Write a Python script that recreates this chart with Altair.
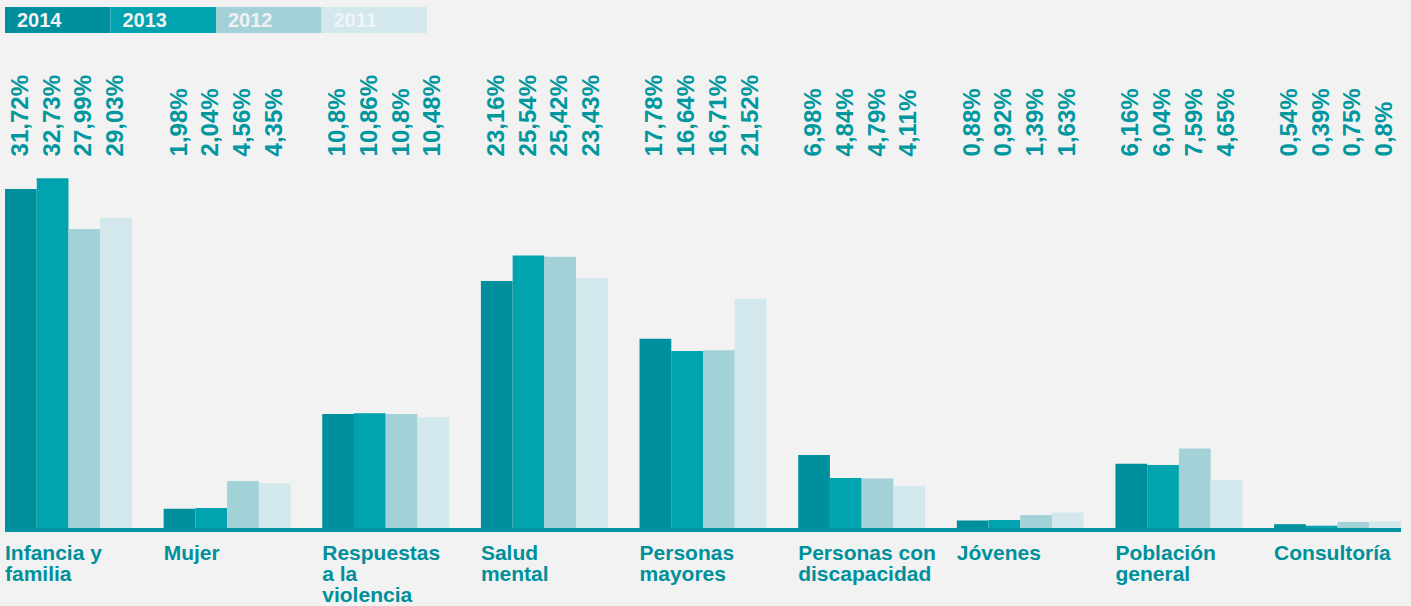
import altair as alt
import pandas as pd

categories = ["Infancia y familia", "Mujer", "Respuestas a la violencia", "Salud mental",
              "Personas mayores", "Personas con discapacidad", "Jóvenes",
              "Población general", "Consultoría"]
cat_labels = ["Infancia y\nfamilia", "Mujer", "Respuestas\na la\nviolencia", "Salud\nmental",
              "Personas\nmayores", "Personas con\ndiscapacidad", "Jóvenes",
              "Población\ngeneral", "Consultoría"]
years = ["2014", "2013", "2012", "2011"]
v2014 = [31.72, 1.98, 10.8, 23.16, 17.78, 6.98, 0.88, 6.16, 0.54]
v2013 = [32.73, 2.04, 10.86, 25.54, 16.64, 4.84, 0.92, 6.04, 0.39]
v2012 = [27.99, 4.56, 10.8, 25.42, 16.71, 4.79, 1.39, 7.59, 0.75]
v2011 = [29.03, 4.35, 10.48, 23.43, 21.52, 4.11, 1.63, 4.65, 0.8]
colors = ["#008f9c", "#00a3ae", "#a3d1d8", "#d3e8ed"]
legend_text_colors = ["#f2f2f2", "#f2f2f2", "#f0f0f0", "#eef5f7"]

rows = []
for y, vals in zip(years, [v2014, v2013, v2012, v2011]):
    for c, v in zip(categories, vals):
        rows.append({"cat": c, "year": y, "value": v,
                     "label": (f"{v:g}").replace(".", ",") + "%"})
df = pd.DataFrame(rows)
cat_df = pd.DataFrame({"cat": categories, "lab": cat_labels})
leg_df = pd.DataFrame({"year": years, "tc": legend_text_colors})

W, H = 1396, 530
FONT = "Liberation Sans"
TEAL = "#00939f"

xs = alt.X("cat:N", sort=categories, axis=None,
           scale=alt.Scale(paddingInner=0.2, paddingOuter=0))
ys = alt.Y("value:Q", axis=None, scale=alt.Scale(domain=[0, 49.3], nice=False))
col = alt.Color("year:N", sort=years, legend=None,
                scale=alt.Scale(domain=years, range=colors))
xo = alt.XOffset("year:N", sort=years)

base = alt.Chart(df)
bars = base.mark_bar(opacity=1).encode(x=xs, xOffset=xo, y=ys, color=col)
vlabels = base.mark_text(angle=270, align="left", baseline="middle", font=FONT,
                         fontWeight="bold", fontSize=24, color="#00979f").encode(
    x=xs, xOffset=xo, y=alt.datum(34.75), text="label:N")

baseline = alt.Chart(cat_df).mark_rule(color=TEAL, strokeWidth=3).encode(
    y=alt.datum(0), x=alt.value(0), x2=alt.value(W))

clabels = alt.Chart(cat_df).mark_text(align="left", baseline="top", font=FONT,
                                      fontWeight="bold", fontSize=21, lineHeight=21,
                                      color="#00909b", lineBreak="\n").encode(
    x=alt.X("cat:N", sort=categories, axis=None, bandPosition=0,
            scale=alt.Scale(paddingInner=0.2, paddingOuter=0)),
    y=alt.value(543), text="lab:N")

legx = alt.X("year:N", sort=years, axis=None,
             scale=alt.Scale(range=[0, 422], paddingInner=0, paddingOuter=0))
leg_rect = alt.Chart(leg_df).mark_rect().encode(
    x=legx, y=alt.value(7), y2=alt.value(33), color=col)
leg_text = alt.Chart(leg_df).mark_text(align="left", baseline="middle", font=FONT,
                                       fontWeight="bold", fontSize=20, dx=12).encode(
    x=alt.X("year:N", sort=years, axis=None, bandPosition=0,
            scale=alt.Scale(range=[0, 422], paddingInner=0, paddingOuter=0)),
    y=alt.value(21), text="year:N", color=alt.Color("tc:N", scale=None, legend=None))

main = alt.layer(bars, vlabels, clabels, baseline)
legend = alt.layer(leg_rect, leg_text)

chart = alt.layer(main, legend).resolve_scale(x="independent", color="independent").properties(
    width=W, height=H, background="#f2f2f2",
    padding={"left": 5, "top": 0, "right": 10, "bottom": 76},
    autosize=alt.AutoSizeParams(type="none"),
).configure_view(stroke=None)

chart.save("out.html", embed_options={"renderer": "svg", "actions": False})
